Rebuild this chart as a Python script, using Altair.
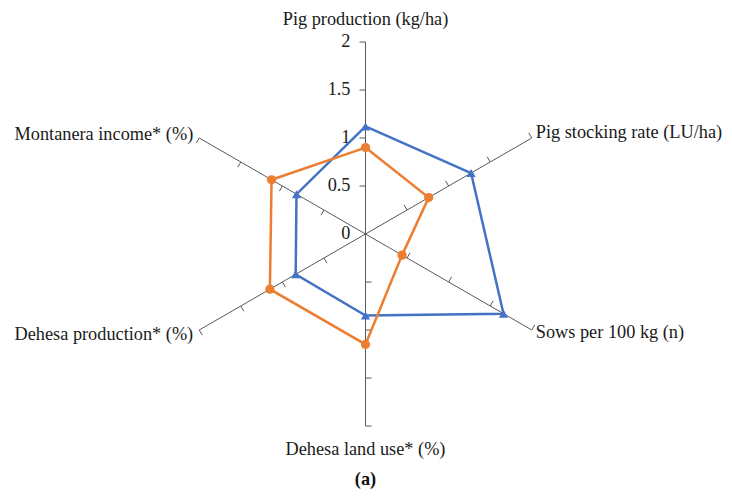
import math
import altair as alt
import pandas as pd

# ---- data ----
axis_names = [
    "Pig production (kg/ha)",
    "Pig stocking rate (LU/ha)",
    "Sows per 100 kg (n)",
    "Dehesa land use* (%)",
    "Dehesa production* (%)",
    "Montanera income* (%)",
]
series_blue = [1.12, 1.27, 1.66, 0.85, 0.84, 0.83]
series_orange = [0.90, 0.76, 0.44, 1.15, 1.15, 1.13]
series_names = ["Series 1", "Series 2"]
tick_values = [0.5, 1.0, 1.5, 2.0]
tick_label_values = [0, 0.5, 1, 1.5, 2]
tick_label_text = ["0", "0.5", "1", "1.5", "2"]
r_max = 2.0

# ---- layout ----
W, H = 716, 482
cx, cy = 357.5, 226.0      # centre in plot pixels
ppu = 96.0                 # pixels per unit
xdom = [-cx / ppu, (W - cx) / ppu]
ydom = [(cy - H) / ppu, cy / ppu]
xs = alt.Scale(domain=xdom, nice=False, zero=False)
ys = alt.Scale(domain=ydom, nice=False, zero=False)
FONT = "Liberation Serif"
FS = 18.3
AXIS_COLOR = "#595959"
TEXT_COLOR = "#1a1a1a"
colors = ["#4472C4", "#ED7D31"]

n = len(axis_names)
angles = [90 - 360 / n * i for i in range(n)]

# series table (closed polygons)
rows = []
for s, vals in zip(series_names, [series_blue, series_orange]):
    for i in range(n + 1):
        k = i % n
        rows.append({"series": s, "order": i, "value": vals[k], "angle": angles[k],
                     "point": i < n})
sdf = pd.DataFrame(rows)

adf = pd.DataFrame({"axis": axis_names, "angle": angles, "rmax": [r_max] * n})

trows = []
for a in angles:
    for v in tick_values:
        trows.append({"angle": a, "v": v})
tdf = pd.DataFrame(trows)
tick_len = 6 / ppu

ldf = pd.DataFrame({"v": tick_label_values, "label": tick_label_text})

X = lambda f: alt.X(f, type="quantitative", scale=xs, axis=None)
Y = lambda f: alt.Y(f, type="quantitative", scale=ys, axis=None)

axes_layer = alt.Chart(adf).transform_calculate(
    x0="0", y0="0",
    x1="datum.rmax*cos(datum.angle*PI/180)",
    y1="datum.rmax*sin(datum.angle*PI/180)",
).mark_rule(color=AXIS_COLOR, strokeWidth=1).encode(
    x=X("x0:Q"), y=Y("y0:Q"), x2="x1:Q", y2="y1:Q"
)

ticks_layer = alt.Chart(tdf).transform_calculate(
    xa="datum.v*cos(datum.angle*PI/180)",
    ya="datum.v*sin(datum.angle*PI/180)",
).transform_calculate(
    xb=f"datum.xa - {tick_len}*sin(datum.angle*PI/180)",
    yb=f"datum.ya + {tick_len}*cos(datum.angle*PI/180)",
).mark_rule(color=AXIS_COLOR, strokeWidth=1).encode(
    x=X("xa:Q"), y=Y("ya:Q"), x2="xb:Q", y2="yb:Q"
)

tick_labels = alt.Chart(ldf).transform_calculate(x0="0").mark_text(
    align="right", baseline="middle", dx=-15, font=FONT, fontSize=FS, color=TEXT_COLOR
).encode(x=X("x0:Q"), y=Y("v:Q"), text="label:N")

color_enc = alt.Color("series:N", scale=alt.Scale(domain=series_names, range=colors), legend=None)

lines = alt.Chart(sdf).transform_calculate(
    x="datum.value*cos(datum.angle*PI/180)",
    y="datum.value*sin(datum.angle*PI/180)",
).mark_line(strokeWidth=2.5).encode(
    x=X("x:Q"), y=Y("y:Q"), color=color_enc, order="order:Q", detail="series:N"
)

points = alt.Chart(sdf).transform_filter("datum.point").transform_calculate(
    x="datum.value*cos(datum.angle*PI/180)",
    y="datum.value*sin(datum.angle*PI/180)",
).mark_point(filled=True, opacity=1, size=85).encode(
    x=X("x:Q"), y=Y("y:Q"), color=color_enc,
    shape=alt.Shape("series:N", scale=alt.Scale(domain=series_names, range=["triangle-up", "circle"]), legend=None),
)

# axis titles: (align, dx, dy) per axis
title_style = [
    ("center", 0, -22),
    ("left", 4, -5),
    ("left", 4, 3),
    ("center", 0, 24),
    ("right", -6, 5),
    ("right", -6, -3),
]
title_layers = []
for name, (al, dx, dy) in zip(axis_names, title_style):
    title_layers.append(
        alt.Chart(adf).transform_filter(alt.datum.axis == name).transform_calculate(
            x="datum.rmax*cos(datum.angle*PI/180)",
            y="datum.rmax*sin(datum.angle*PI/180)",
        ).mark_text(align=al, baseline="middle", dx=dx, dy=dy, font=FONT, fontSize=FS, color=TEXT_COLOR)
        .encode(x=X("x:Q"), y=Y("y:Q"), text="axis:N")
    )

caption = alt.Chart(pd.DataFrame({"t": ["(a)"]})).mark_text(
    align="center", baseline="alphabetic", font=FONT, fontSize=FS, fontWeight="bold", color="#111111"
).encode(x=alt.value(cx), y=alt.value(477), text="t:N")

chart = alt.layer(axes_layer, ticks_layer, tick_labels, lines, points, *title_layers, caption).properties(
    width=W, height=H, padding=0, autosize="none", background="white"
).configure_view(stroke=None)

chart.save("out.html", embed_options={"renderer": "svg", "actions": False})
